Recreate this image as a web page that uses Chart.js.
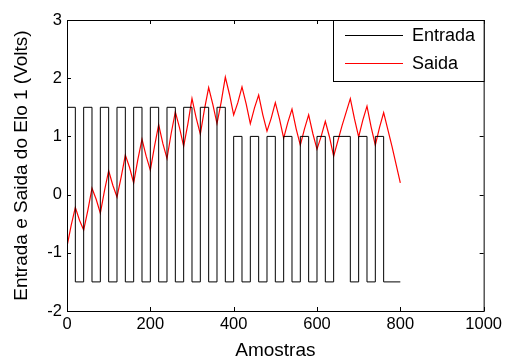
<!DOCTYPE html>
<html>
<head>
<meta charset="utf-8">
<script src="https://cdn.jsdelivr.net/npm/chart.js@4.4.1/dist/chart.umd.min.js"></script>
<style>
  body { margin: 0; background: #fff; }
  canvas { display: block; }
</style>
</head>
<body>
<canvas id="chart" width="506" height="360"></canvas>
<script>
// Entrada: square wave, each level holds from its edge until the next edge
let entradaEdges = [0, 20, 40, 60, 80, 100, 120, 140, 160, 180, 200, 220, 240, 260, 280, 300, 320, 340, 360, 380,
  400, 420, 440, 460, 480, 500, 520, 540, 560, 580, 600, 620, 640, 680, 700, 720, 740, 760, 800]
let entradaLevels = [1.5, -1.5, 1.5, -1.5, 1.5, -1.5, 1.5, -1.5, 1.5, -1.5, 1.5, -1.5, 1.5, -1.5, 1.5, -1.5, 1.5, -1.5, 1.5, -1.5,
  1, -1.5, 1, -1.5, 1, -1.5, 1, -1.5, 1, -1.5, 1, -1.5, 1, -1.5, 1, -1.5, 1, -1.5, -1.5]

// Saida: peaks, troughs and the wobble half way between
let saidaX = [0, 10, 20, 30, 40, 50, 60, 70, 80, 90, 100, 110, 120, 130, 140, 150, 160, 170, 180, 190,
  200, 210, 220, 230, 240, 250, 260, 270, 280, 290, 300, 310, 320, 330, 340, 350, 360, 370, 380, 390,
  400, 410, 420, 430, 440, 450, 460, 470, 480, 490, 500, 510, 520, 530, 540, 550, 560, 570, 580, 590,
  600, 610, 620, 630, 640, 660, 680, 690, 700, 710, 720, 730, 740, 750, 760, 780, 800]
let saidaY = [-0.89, -0.53, -0.22, -0.44, -0.61, -0.27, 0.11, -0.08, -0.32, 0.07, 0.41, 0.16, -0.04, 0.30, 0.68, 0.47, 0.20, 0.60, 0.95, 0.66,
  0.42, 0.83, 1.20, 0.88, 0.62, 1.05, 1.42, 1.15, 0.83, 1.21, 1.65, 1.32, 1.04, 1.47, 1.84, 1.55, 1.22, 1.59, 2.02, 1.72,
  1.37, 1.58, 1.85, 1.56, 1.22, 1.49, 1.71, 1.37, 1.09, 1.31, 1.58, 1.30, 0.97, 1.24, 1.47, 1.13, 0.85, 1.13, 1.37, 1.05,
  0.78, 1.00, 1.26, 0.99, 0.66, 1.18, 1.65, 1.30, 0.99, 1.28, 1.52, 1.16, 0.85, 1.15, 1.41, 0.83, 0.20]

let xTicks = [0, 200, 400, 600, 800, 1000]
let yTicks = [-2, -1, 0, 1, 2, 3]

let fontFamily = '"Liberation Sans", Arial, Helvetica, sans-serif'


// box round the axes with inward tick marks on all four sides, plus the legend
let boxPlugin = {
  id: 'matlabBox',
  afterDraw: function (chart) {
    let ctx = chart.ctx
    let area = chart.chartArea
    let xs = chart.scales.x
    let ys = chart.scales.y
    let tl = 4

    ctx.save()
    ctx.strokeStyle = '#000'
    ctx.lineWidth = 1
    ctx.strokeRect(area.left + 0.5, area.top + 0.5, area.right - area.left, area.bottom - area.top)

    ctx.beginPath()
    xTicks.forEach(v => {
      let px = Math.round(xs.getPixelForValue(v)) + 0.5
      ctx.moveTo(px, area.bottom)
      ctx.lineTo(px, area.bottom - tl)
      ctx.moveTo(px, area.top)
      ctx.lineTo(px, area.top + tl)
    })
    yTicks.forEach(v => {
      let py = Math.round(ys.getPixelForValue(v)) + 0.5
      ctx.moveTo(area.left, py)
      ctx.lineTo(area.left + tl, py)
      ctx.moveTo(area.right, py)
      ctx.lineTo(area.right - tl, py)
    })
    ctx.stroke()

    // legend in the top right corner
    let lx = 333.5
    let ly = area.top + 0.5
    let lw = area.right + 0.5 - lx
    let lh = 61
    ctx.fillStyle = '#fff'
    ctx.fillRect(lx, ly, lw, lh)
    ctx.strokeRect(lx, ly, lw, lh)

    ctx.font = '18px ' + fontFamily
    ctx.textBaseline = 'middle'
    ctx.textAlign = 'left'
    chart.data.datasets.forEach((ds, i) => {
      let y = Math.round(ly + 14 + i * 28.5) + 0.5
      ctx.strokeStyle = ds.borderColor
      ctx.beginPath()
      ctx.moveTo(345, y)
      ctx.lineTo(403, y)
      ctx.stroke()
      ctx.fillStyle = '#000'
      ctx.fillText(ds.label, 412, y + 1)
    })
    ctx.restore()
  }
}


function init() {

  let entradaData = entradaEdges.map((e, i) => ({ x: e, y: entradaLevels[i] }))
  let saidaData = saidaX.map((e, i) => ({ x: e, y: saidaY[i] }))

  let ctx = document.getElementById('chart')
  chart = new Chart(ctx, {
    type: 'line',
    data: {
      datasets: [{
        label: 'Entrada',
        data: entradaData,
        borderColor: '#000000',
        borderWidth: 1,
        stepped: true,
        pointRadius: 0,
        fill: false
      },
      {
        label: 'Saida',
        data: saidaData,
        borderColor: '#ff0000',
        borderWidth: 1.2,
        pointRadius: 0,
        tension: 0,
        fill: false
      }]
    },
    options: {
      responsive: false,
      animation: false,
      layout: { padding: { left: 0, top: 20, right: 21, bottom: 0 } },
      scales: {
        x: {
          type: 'linear',
          min: 0,
          max: 1000,
          afterFit: function (scale) { scale.height = 49 },
          afterBuildTicks: function (scale) { scale.ticks = xTicks.map(v => ({ value: v })) },
          grid: { display: false, drawTicks: false, tickLength: 0 },
          border: { display: false },
          ticks: {
            color: '#000',
            padding: 4,
            maxRotation: 0,
            font: { family: fontFamily, size: 16.5 },
            callback: function (value) { return String(value) }
          },
          title: {
            display: true,
            text: 'Amostras',
            color: '#000',
            padding: { top: 0, bottom: 0 },
            font: { family: fontFamily, size: 19, lineHeight: 1.0 }
          }
        },
        y: {
          type: 'linear',
          min: -2,
          max: 3,
          afterFit: function (scale) { scale.width = 67 },
          afterBuildTicks: function (scale) { scale.ticks = yTicks.map(v => ({ value: v })) },
          grid: { display: false, drawTicks: false, tickLength: 0 },
          border: { display: false },
          ticks: {
            color: '#000',
            padding: 5,
            font: { family: fontFamily, size: 16.5 },
            callback: function (value) { return String(value) }
          },
          title: {
            display: true,
            text: 'Entrada e Saida do Elo 1 (Volts)',
            color: '#000',
            padding: { top: 12, bottom: 0 },
            font: { family: fontFamily, size: 19, lineHeight: 1.0 }
          }
        }
      },
      plugins: {
        legend: { display: false },
        tooltip: { enabled: false }
      }
    },
    plugins: [boxPlugin]
  })
}

init()
</script>
</body>
</html>
